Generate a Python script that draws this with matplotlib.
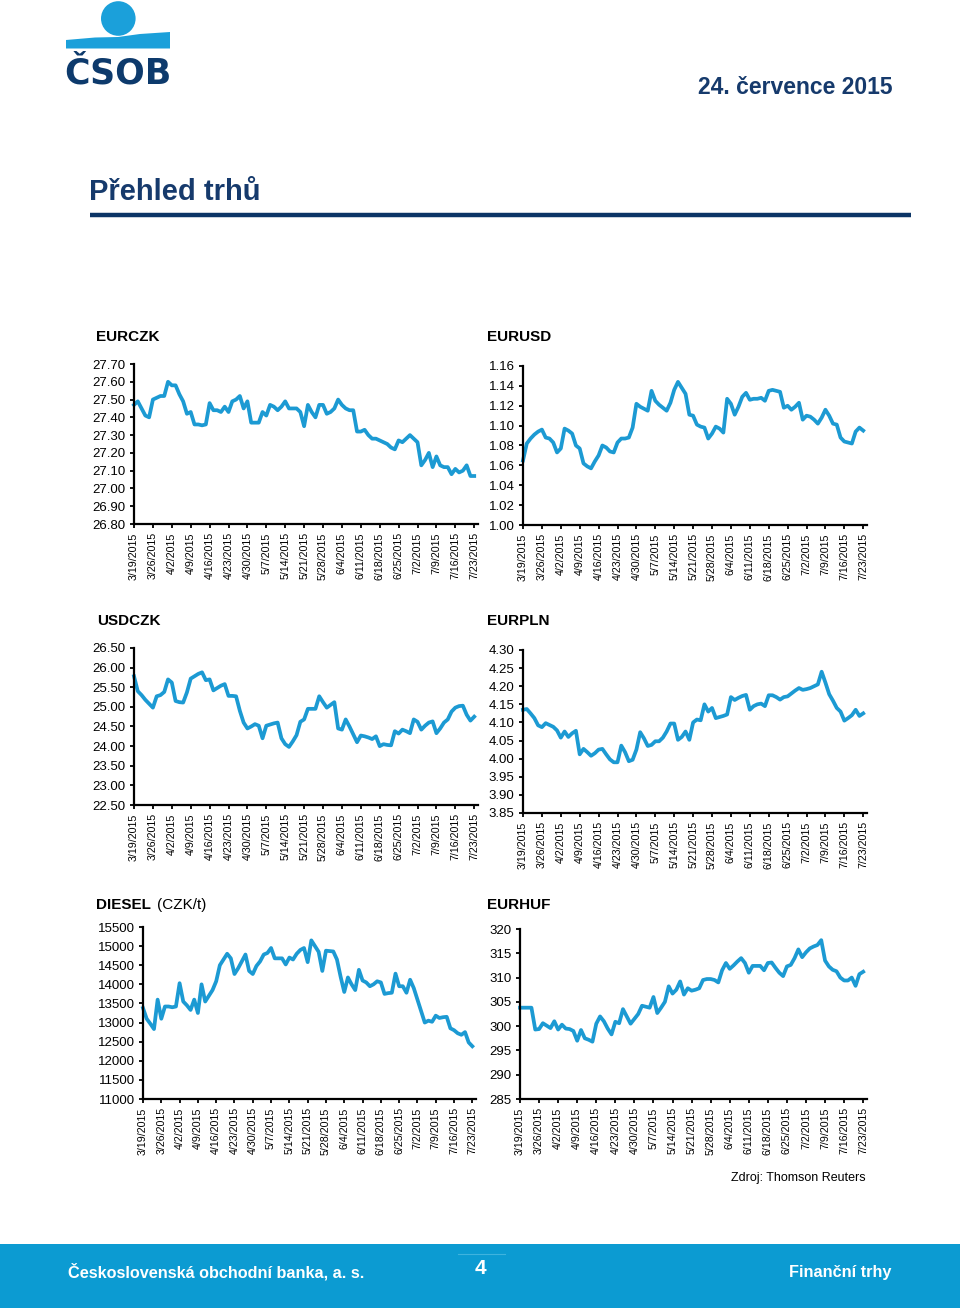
import numpy as np
import matplotlib
matplotlib.use("Agg")
import matplotlib.pyplot as plt
from matplotlib.patches import Circle, Polygon, Rectangle

# ---------------- data ----------------
tick_labels = ["3/19/2015", "3/26/2015", "4/2/2015", "4/9/2015", "4/16/2015",
               "4/23/2015", "4/30/2015", "5/7/2015", "5/14/2015", "5/21/2015",
               "5/28/2015", "6/4/2015", "6/11/2015", "6/18/2015", "6/25/2015",
               "7/2/2015", "7/9/2015", "7/16/2015", "7/23/2015"]

eurczk = [27.47, 27.49, 27.45, 27.41, 27.40,
          27.50, 27.51, 27.52, 27.52, 27.60,
          27.58, 27.58, 27.53, 27.49, 27.42,
          27.43, 27.36, 27.36, 27.355, 27.36,
          27.48, 27.44, 27.44, 27.43, 27.46,
          27.43, 27.49, 27.50, 27.52, 27.45,
          27.49, 27.37, 27.37, 27.37, 27.43,
          27.41, 27.47, 27.46, 27.44, 27.46,
          27.49, 27.45, 27.45, 27.45, 27.43,
          27.35, 27.47, 27.43, 27.40, 27.47,
          27.47, 27.42, 27.43, 27.45, 27.50,
          27.47, 27.45, 27.44, 27.44, 27.32,
          27.32, 27.33, 27.30, 27.28, 27.28,
          27.27, 27.26, 27.25, 27.23, 27.22,
          27.27, 27.26, 27.28, 27.30, 27.28,
          27.26, 27.13, 27.16, 27.20, 27.12,
          27.18, 27.13, 27.12, 27.12, 27.08,
          27.11, 27.09, 27.10, 27.13, 27.07,
          27.07]

eurusd = [1.065, 1.082, 1.087, 1.091, 1.094,
          1.096, 1.088, 1.087, 1.083, 1.073,
          1.077, 1.097, 1.095, 1.092, 1.080,
          1.077, 1.062, 1.059, 1.057, 1.064,
          1.070, 1.080, 1.078, 1.074, 1.073,
          1.083, 1.087, 1.087, 1.088, 1.098,
          1.122, 1.119, 1.117, 1.115, 1.135,
          1.125, 1.121, 1.118, 1.115, 1.123,
          1.136, 1.144, 1.138, 1.132, 1.111,
          1.110, 1.101, 1.099, 1.098, 1.087,
          1.092, 1.099, 1.097, 1.093, 1.127,
          1.122, 1.111, 1.119, 1.129, 1.133,
          1.126, 1.127, 1.127, 1.128, 1.125,
          1.135, 1.136, 1.135, 1.134, 1.118,
          1.120, 1.116, 1.119, 1.123, 1.106,
          1.110, 1.109, 1.106, 1.102, 1.108,
          1.116, 1.110, 1.102, 1.101, 1.088,
          1.084, 1.083, 1.082, 1.094, 1.098,
          1.095]

usdczk = [25.78, 25.40, 25.30, 25.18, 25.08,
          24.98, 25.27, 25.30, 25.38, 25.70,
          25.62, 25.15, 25.12, 25.11, 25.37,
          25.72, 25.78, 25.84, 25.88, 25.68,
          25.70, 25.42, 25.48, 25.54, 25.58,
          25.28, 25.28, 25.27, 24.90, 24.60,
          24.45, 24.50, 24.56, 24.52, 24.20,
          24.52, 24.55, 24.58, 24.60, 24.20,
          24.05, 23.98, 24.12, 24.28, 24.62,
          24.68, 24.95, 24.95, 24.95, 25.27,
          25.12, 24.98, 25.05, 25.12, 24.45,
          24.42, 24.68, 24.50, 24.30, 24.10,
          24.27, 24.25, 24.22, 24.18, 24.25,
          24.00, 24.05, 24.03, 24.02, 24.38,
          24.32, 24.42, 24.38, 24.33, 24.68,
          24.62, 24.42, 24.52, 24.60, 24.63,
          24.33, 24.45, 24.60, 24.68, 24.88,
          24.98, 25.02, 25.03, 24.80, 24.65,
          24.75]

eurpln = [4.135, 4.137, 4.125, 4.112, 4.092,
          4.087, 4.098, 4.093, 4.088, 4.078,
          4.058, 4.075, 4.060, 4.070, 4.077,
          4.012, 4.027, 4.018, 4.008, 4.015,
          4.025, 4.027, 4.012, 3.998, 3.990,
          3.990, 4.036, 4.018, 3.993, 3.997,
          4.025, 4.073, 4.056, 4.035, 4.038,
          4.048, 4.048, 4.058, 4.075, 4.097,
          4.097, 4.052, 4.060, 4.075, 4.052,
          4.100, 4.108, 4.106, 4.150, 4.130,
          4.140, 4.112, 4.115, 4.118, 4.122,
          4.170, 4.162, 4.168, 4.173, 4.176,
          4.135, 4.145, 4.150, 4.152, 4.145,
          4.175, 4.175, 4.170, 4.163, 4.170,
          4.172, 4.180, 4.188, 4.195, 4.190,
          4.192, 4.195, 4.200, 4.205, 4.240,
          4.210, 4.178, 4.160, 4.140, 4.130,
          4.105, 4.112, 4.120, 4.135, 4.118,
          4.125]

diesel = [13380, 13100, 12970, 12830, 13600,
          13100, 13420, 13420, 13400, 13420,
          14030, 13550, 13450, 13330, 13600,
          13250, 14000, 13550, 13700, 13850,
          14080, 14500, 14650, 14800, 14680,
          14270, 14420, 14600, 14780, 14350,
          14270, 14480, 14600, 14780, 14820,
          14950, 14680, 14680, 14680, 14520,
          14700, 14650, 14800, 14900, 14950,
          14580, 15150, 15000, 14850, 14350,
          14880, 14870, 14860, 14650, 14200,
          13800, 14180, 14000, 13850, 14380,
          14100, 14050, 13950, 14000, 14080,
          14050, 13750, 13770, 13780, 14280,
          13950, 13950, 13780, 14120, 13900,
          13600, 13300, 13000, 13050, 13020,
          13180, 13120, 13140, 13150, 12850,
          12800, 12720, 12680, 12750, 12480,
          12380]

eurhuf = [303.8, 303.8, 303.8, 303.8, 299.3,
          299.4, 300.6, 300.1, 299.6, 301.0,
          299.3, 300.3, 299.5, 299.4, 299.0,
          297.0, 299.2, 297.5, 297.2, 296.8,
          300.5, 302.0, 301.0, 299.5, 298.3,
          300.9, 300.6, 303.5, 302.0, 300.5,
          301.5, 302.5, 304.2, 304.0, 303.8,
          306.0, 302.7, 303.8, 305.0, 308.2,
          306.7, 307.5, 309.2, 306.5, 307.8,
          307.3, 307.5, 307.8, 309.5, 309.7,
          309.7, 309.5, 309.0, 311.5, 313.0,
          311.8, 312.5, 313.3, 314.0, 313.0,
          311.0, 312.4, 312.4, 312.4, 311.5,
          313.0, 313.1, 312.0, 311.0, 310.3,
          312.3, 312.6, 314.0, 315.8, 314.2,
          315.2, 316.0, 316.4, 316.7, 317.7,
          313.5, 312.3, 311.6, 311.3, 310.0,
          309.4, 309.4, 310.0, 308.3, 310.7,
          311.2]

eurczk_ticks = [26.80, 26.90, 27.00, 27.10, 27.20, 27.30, 27.40, 27.50, 27.60, 27.70]
eurusd_ticks = [1.00, 1.02, 1.04, 1.06, 1.08, 1.10, 1.12, 1.14, 1.16]
usdczk_ticks = [22.50, 23.00, 23.50, 24.00, 24.50, 25.00, 25.50, 26.00, 26.50]
eurpln_ticks = [3.85, 3.90, 3.95, 4.00, 4.05, 4.10, 4.15, 4.20, 4.25, 4.30]
diesel_ticks = [11000, 11500, 12000, 12500, 13000, 13500, 14000, 14500, 15000, 15500]
eurhuf_ticks = [285, 290, 295, 300, 305, 310, 315, 320]

# ---------------- styling ----------------
W, H = 960, 1308
LINE = "#1c9ad3"
NAVY = "#163a6c"
BAND = "#0c9bd2"
SANS = ["Liberation Sans", "DejaVu Sans"]
plt.rcParams["font.family"] = SANS

fig = plt.figure(figsize=(W / 100, H / 100), dpi=100)
bg = fig.add_axes([0, 0, 1, 1], zorder=0)
bg.set_xlim(0, W)
bg.set_ylim(H, 0)
bg.axis("off")

# logo
bg.add_patch(Circle((118.3, 18.5), 17.3, color="#1ba0da", lw=0))
bg.add_patch(Polygon([(66, 40), (95, 37.5), (118, 37), (140, 34), (170, 32),
                      (170, 48.5), (66, 48.5)], closed=True, color="#1ba0da", lw=0))
bg.text(64, 83.5, "ČSOB", fontsize=25, fontweight="heavy", color="#0d3a6c",
        family=["DejaVu Sans"], va="baseline", ha="left")

# header
bg.text(893, 88, "24. července 2015", fontsize=16.5, fontweight="bold", color=NAVY,
        ha="right", va="center")
bg.text(89, 192, "Přehled trhů", fontsize=21, fontweight="bold", color=NAVY,
        ha="left", va="center")
bg.plot([90, 911], [214.5, 214.5], color="#0c3566", lw=3.2, solid_capstyle="butt")

# footer
bg.add_patch(Rectangle((0, 1244), W, 64, color=BAND, lw=0))
bg.plot([458, 505], [1254, 1254], color="#3fb3de", lw=0.8)
bg.text(68, 1272, "Československá obchodní banka, a. s.", fontsize=11.7, fontweight="bold",
        color="white", ha="left", va="center")
bg.text(480, 1268, "4", fontsize=15, fontweight="bold", color="white",
        ha="center", va="center")
bg.text(891, 1272, "Finanční trhy", fontsize=11.7, fontweight="bold", color="white",
        ha="right", va="center")
bg.text(866, 1178, "Zdroj: Thomson Reuters", fontsize=9, color="black",
        ha="right", va="center")


def chart(left, top, right, bottom, values, yticks, fmt, title_x, title_y, title):
    ax = fig.add_axes([left / W, 1 - bottom / H, (right - left) / W, (bottom - top) / H], zorder=2)
    x = np.arange(len(values))
    ax.plot(x, values, color=LINE, lw=2.7, solid_joinstyle="round", clip_on=False)
    ax.set_xlim(0, 91)
    ax.set_ylim(yticks[0], yticks[-1])
    ax.set_yticks(yticks)
    ax.set_yticklabels([fmt.format(v) for v in yticks])
    ax.set_xticks(np.arange(0, len(values), 5))
    ax.set_xticklabels(tick_labels, rotation=90, ha="center", va="top")
    for s in ("top", "right"):
        ax.spines[s].set_visible(False)
    for s in ("left", "bottom"):
        ax.spines[s].set_linewidth(1.6)
        ax.spines[s].set_color("black")
    ax.tick_params(axis="y", length=3, width=1.3, pad=3, labelsize=9.5)
    ax.tick_params(axis="x", length=3, width=1.3, pad=3, labelsize=7.7)
    ax.patch.set_alpha(0)
    if isinstance(title, tuple):
        bg.text(title_x, title_y, title[0], fontsize=11, fontweight="bold", ha="left", va="center")
        bg.text(title_x + 61, title_y, title[1], fontsize=11, ha="left", va="center")
    else:
        bg.text(title_x, title_y, title, fontsize=11, fontweight="bold", ha="left", va="center")
    return ax


chart(134, 364, 478, 524, eurczk, eurczk_ticks, "{:.2f}", 96, 337, "EURCZK")
chart(523, 366, 867, 525, eurusd, eurusd_ticks, "{:.2f}", 487, 337, "EURUSD")
chart(134, 648, 478, 805, usdczk, usdczk_ticks, "{:.2f}", 97, 621, "USDCZK")
chart(523, 650, 867, 813, eurpln, eurpln_ticks, "{:.2f}", 487, 621, "EURPLN")
chart(143, 927, 476, 1099, diesel, diesel_ticks, "{:.0f}", 96, 905, ("DIESEL", "(CZK/t)"))
chart(520, 929, 867, 1099, eurhuf, eurhuf_ticks, "{:.0f}", 487, 905, "EURHUF")

fig.savefig("out.png", dpi=100)
